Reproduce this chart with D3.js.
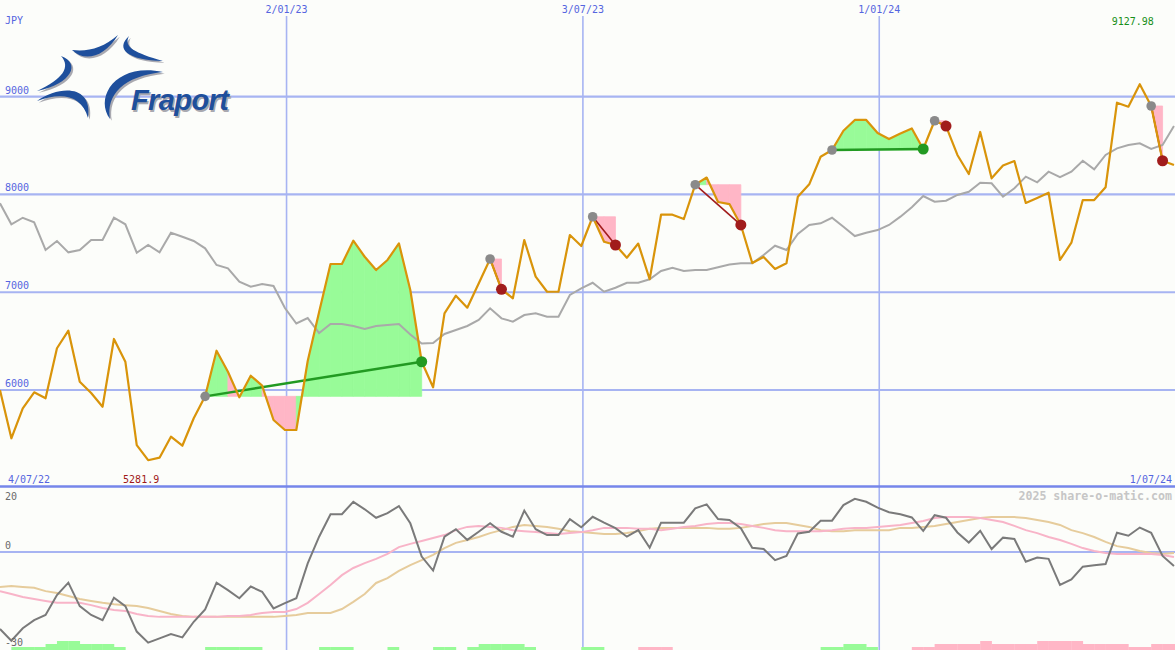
<!DOCTYPE html>
<html><head><meta charset="utf-8">
<script src="https://cdn.jsdelivr.net/npm/d3@7/dist/d3.min.js"></script>
<style>html,body{margin:0;padding:0;background:#fcfdfa;}svg{display:block;}</style>
</head><body>
<script>
// ---------- DATA ----------
const startDate = "2022-07-10";            // first weekly point
const rangeStart = "2022-07-04", rangeEnd = "2024-07-01";
const tickDates = ["2023-01-02", "2023-07-03", "2024-01-01"];
const tickLabels = ["2/01/23", "3/07/23", "1/01/24"];
const priceTicks = [6000, 7000, 8000, 9000];
const oscTicks = [20, 0, -30];
const currency = "JPY";

const close = [6000, 5506, 5813, 5976, 5915, 6427, 6607, 6085, 5969, 5829,
 6522, 6290, 5437, 5281.9, 5308, 5522, 5430, 5711, 5935, 6402,
 6187, 5925, 6146, 6045, 5693, 5591, 5591, 6297, 6798, 7289,
 7289, 7527, 7363, 7227, 7330, 7500, 7023, 6289, 6028, 6784,
 6965, 6842, 7089, 7340, 7030, 6938, 7534, 7159, 7005, 7005,
 7585, 7473, 7772, 7517, 7483, 7353, 7498, 7133, 7793, 7793,
 7749, 8100, 8173, 7923, 7902, 7688, 7299, 7360, 7238, 7296,
 7977, 8104, 8386, 8455, 8652, 8762, 8762, 8629, 8567, 8623,
 8675, 8465, 8754, 8700, 8404, 8209, 8639, 8165, 8296, 8342,
 7913, 7964, 8018, 7330, 7507, 7943, 7943, 8073, 8939, 8898,
 9127.98, 8905, 8345, 8301];

const movingAvg = [7910, 7695, 7762, 7715, 7432, 7524, 7408, 7432, 7534, 7534,
 7762, 7695, 7404, 7483, 7408, 7609, 7568, 7524, 7449, 7279,
 7245, 7108, 7057, 7084, 7064, 6839, 6680, 6736, 6583, 6675,
 6675, 6655, 6624, 6655, 6665, 6675, 6568, 6476, 6481, 6573,
 6614, 6655, 6716, 6836, 6733, 6699, 6767, 6785, 6750, 6750,
 6972, 7040, 7097, 7005, 7046, 7097, 7097, 7132, 7217, 7251,
 7217, 7227, 7227, 7255, 7284, 7296, 7296, 7381, 7476, 7432,
 7596, 7688, 7705, 7762, 7670, 7575, 7609, 7636, 7688, 7773,
 7869, 7984, 7926, 7936, 7995, 8028, 8120, 8114, 7977, 8063,
 8182, 8124, 8233, 8176, 8233, 8345, 8257, 8404, 8472, 8506,
 8523, 8465, 8506, 8700];

const oscillator = [-23.6, -27.2, -23.4, -20.9, -19.3, -13.2, -9.4, -16.6, -19.3, -20.9,
 -14.0, -16.6, -24.4, -27.8, -26.5, -25.2, -26.2, -21.4, -17.6, -9.4,
 -11.7, -14.2, -10.6, -12.2, -17.3, -15.7, -14.2, -3.5, 4.7, 11.6,
 11.6, 15.4, 13.1, 10.5, 11.9, 14.1, 8.8, -1.4, -5.7, 4.7,
 7.0, 3.7, 6.2, 8.8, 6.2, 4.7, 12.7, 7.0, 5.2, 5.2,
 10.1, 7.6, 10.8, 9.0, 7.3, 4.7, 6.7, 1.3, 9.0, 9.0,
 9.0, 13.4, 14.6, 10.1, 9.8, 7.3, 1.3, 0.9, -2.5, -1.2,
 5.7, 6.2, 9.6, 9.6, 14.4, 16.3, 15.4, 13.6, 12.2, 11.6,
 10.6, 6.5, 11.3, 10.5, 6.0, 2.9, 6.5, 0.9, 4.4, 4.0,
 -3.0, -1.7, -2.1, -10.1, -8.4, -4.5, -4.1, -3.7, 5.9, 5.0,
 7.5, 5.9, -1.2, -4.3];

const signalFast = [-12.0, -12.9, -13.8, -14.4, -15.0, -15.6, -15.6, -15.6, -16.3, -17.2,
 -17.8, -18.1, -19.0, -19.6, -19.9, -19.9, -19.9, -19.9, -19.9, -19.9,
 -19.6, -19.6, -19.3, -18.7, -18.4, -18.4, -17.5, -15.6, -12.9, -10.1,
 -7.1, -4.9, -3.4, -2.1, -0.6, 1.5, 2.5, 3.4, 4.3, 5.2,
 6.7, 7.7, 8.0, 7.7, 7.4, 6.7, 6.4, 6.1, 5.8, 5.5,
 5.8, 6.1, 6.7, 7.4, 7.4, 7.4, 7.1, 7.1, 6.7, 7.1,
 7.7, 8.0, 8.6, 8.9, 8.9, 8.6, 8.0, 7.4, 6.7, 6.4,
 6.4, 6.4, 6.4, 6.7, 7.1, 7.4, 7.4, 7.7, 8.0, 8.3,
 8.9, 9.5, 10.4, 10.7, 10.7, 10.7, 10.4, 9.8, 9.2, 8.0,
 6.7, 5.8, 4.6, 3.7, 2.5, 1.2, 0.3, -0.3, -0.6, -0.6,
 -0.6, -0.6, -0.9, -1.5];

const signalSlow = [-10.7, -10.4, -10.7, -11.0, -12.0, -12.6, -13.5, -14.4, -15.0, -15.6,
 -16.0, -16.3, -16.6, -17.2, -18.1, -19.0, -19.6, -19.9, -19.9, -19.9,
 -19.9, -19.9, -19.9, -19.9, -19.9, -19.6, -19.3, -18.7, -18.7, -18.7,
 -17.5, -15.3, -12.9, -9.5, -8.0, -5.8, -4.0, -2.5, -0.9, 1.2,
 2.8, 3.7, 4.6, 5.8, 6.7, 7.7, 8.3, 8.0, 7.7, 7.1,
 6.4, 6.1, 5.8, 5.5, 5.5, 5.8, 6.4, 7.1, 7.4, 7.4,
 7.4, 7.4, 7.4, 7.1, 7.1, 7.4, 8.0, 8.6, 8.9, 8.9,
 8.3, 7.7, 6.7, 6.4, 6.4, 6.7, 6.7, 6.7, 6.7, 7.4,
 7.4, 7.7, 8.0, 8.6, 9.2, 9.8, 10.4, 10.7, 10.7, 10.7,
 10.4, 9.8, 9.2, 8.3, 6.7, 5.8, 4.6, 3.1, 1.8, 1.2,
 0.3, -0.3, -0.6, -0.3];

// strength bars (+ green / - pink)
const strength = [0,1,1,1,2,3,3,2,2,2,
 1,0,0,0,0,0,0,0,1,1,
 1,1,1,0,0,0,0,0,1,1,
 1,0,0,0,1,0,0,0,1,1,
 0,1,2,2,2,2,1,0,0,0,
 0,1,1,0,0,0,-1,-1,-1,0,
 0,0,0,0,0,0,0,0,0,0,
 0,0,1,1,2,2,1,0,0,0,
 -1,-1,-2,-2,-2,-2,-3,-2,-2,-2,
 -2,-3,-3,-3,-3,-2,-2,-2,-2,-1,
 -1,-2,-2,-2];

// trades: entry week index, exit week index
const tradeEntry = [18, 43, 52, 61, 73, 82, 101];
const tradeExit  = [37, 44, 54, 65, 81, 83, 102];

// ---------- SETUP ----------
const W = 1175, H = 650;
const C = {
  bg: "#fcfdfa", grid: "#a7b4f2", border: "#7686ea", label: "#5565e0",
  price: "#d9940a", ma: "#a9a9a9", osc: "#7a7a7a", fast: "#f8b4c8", slow: "#e6cc9c",
  up: "#98fb98", down: "#ffb6c6", win: "#229a22", loss: "#a11c1c", entry: "#8a8a8a",
  logo: "#1e4f9c"
};
const parse = d3.timeParse("%Y-%m-%d");
const dates = d3.timeSunday.range(parse(startDate), d3.timeDay.offset(parse(startDate), 7 * close.length));

const svg = d3.select("body").append("svg").attr("width", W).attr("height", H)
  .style("font-family", "'DejaVu Sans Mono', monospace");
svg.append("rect").attr("width", W).attr("height", H).attr("fill", C.bg);

const x = d3.scaleTime().domain([parse(rangeStart), parse(rangeEnd)]).range([-9.8, 1175.6]);
const y = d3.scaleLinear().domain([6000, 9000]).range([390, 96.7]);
const yo = d3.scaleLinear().domain([-30, 20]).range([649.8, 486.8]);
const barH = d3.scaleLinear().domain([0, 3]).range([0, 9]);
const X = i => x(dates[i]);

// ---------- GRID ----------
const hg = svg.append("g");
hg.selectAll("line.h").data(priceTicks).join("line")
  .attr("x1", 0).attr("x2", W).attr("y1", d => y(d)).attr("y2", d => y(d))
  .attr("stroke", C.grid).attr("stroke-width", 2.2);
hg.selectAll("text.h").data(priceTicks).join("text")
  .attr("x", 5).attr("y", d => y(d) - 3).attr("fill", C.label).attr("font-size", 10).text(d => d);

const tickX = tickDates.map(d => x(parse(d)));
hg.selectAll("line.v").data(tickX).join("line")
  .attr("x1", d => d).attr("x2", d => d).attr("y1", 16).attr("y2", H)
  .attr("stroke", C.grid).attr("stroke-width", 1.6);
hg.selectAll("text.v").data(tickLabels).join("text")
  .attr("x", (d, i) => tickX[i]).attr("y", 13).attr("text-anchor", "middle")
  .attr("fill", C.label).attr("font-size", 10).text(d => d);

// oscillator zero line
hg.append("line").attr("x1", 0).attr("x2", W).attr("y1", yo(0)).attr("y2", yo(0))
  .attr("stroke", C.grid).attr("stroke-width", 2.2);
// panel separator
hg.append("line").attr("x1", 0).attr("x2", W).attr("y1", 486.5).attr("y2", 486.5)
  .attr("stroke", C.border).attr("stroke-width", 2.6);

svg.append("text").attr("x", 5).attr("y", 24).attr("fill", C.label).attr("font-size", 10).text(currency);

// ---------- LOGO ----------
const logo = svg.append("g");
const swooshes = [
  "M72,50 C84,62 104,58 118,35 C103,48 88,52 72,50 Z",
  "M129,36 C115,49 127,60 163,61 C135,53 123,47 129,36 Z",
  "M61,56 C81,63 72,84 37,91 C63,79 71,67 61,56 Z",
  "M37,101 C60,85 93,85 88,118 C82,95 61,92 37,101 Z",
  "M163,72 C116,62 94,97 110,119 C106,95 123,76 163,72 Z"
];
logo.selectAll("path.s").data(swooshes).join("path")
  .attr("d", d => d).attr("fill", "#a9a9b0").attr("transform", "translate(1.8,1.8)");
logo.selectAll("path.f").data(swooshes).join("path")
  .attr("d", d => d).attr("fill", C.logo);
logo.append("text").attr("x", 132.5).attr("y", 111.5).attr("fill", "#a9a9b0")
  .attr("font-family", "'Liberation Sans', Arial, sans-serif").attr("font-weight", "bold")
  .attr("font-style", "italic").attr("font-size", 29).attr("letter-spacing", -0.6).text("Fraport");
logo.append("text").attr("x", 131).attr("y", 110).attr("fill", C.logo)
  .attr("font-family", "'Liberation Sans', Arial, sans-serif").attr("font-weight", "bold")
  .attr("font-style", "italic").attr("font-size", 29).attr("letter-spacing", -0.6).text("Fraport");

// ---------- TRADE FILLS ----------
const fills = svg.append("g");
tradeEntry.forEach((e, t) => {
  const ex = tradeExit[t], level = close[e];
  for (let i = e; i < ex; i++) {
    const pts = [[X(i), y(level)], [X(i), y(close[i])], [X(i + 1), y(close[i + 1])], [X(i + 1), y(level)]];
    const col = close[i + 1] >= level ? C.up : C.down;
    fills.append("path").attr("d", "M" + pts.join("L") + "Z")
      .attr("fill", col).attr("stroke", col).attr("stroke-width", 0.8).attr("stroke-linejoin", "miter");
  }
});

// ---------- LINES ----------
const idx = d3.range(close.length);
const lineOf = (arr, ys) => d3.line().x(i => X(i)).y(i => ys(arr[i]))(idx);
svg.append("path").attr("d", lineOf(movingAvg, y)).attr("fill", "none").attr("stroke", C.ma).attr("stroke-width", 2);

// trade lines (beneath price)
const tg = svg.append("g");
tradeEntry.forEach((e, t) => {
  const ex = tradeExit[t], win = close[ex] >= close[e];
  tg.append("line").attr("x1", X(e)).attr("y1", y(close[e])).attr("x2", X(ex)).attr("y2", y(close[ex]))
    .attr("stroke", win ? C.win : C.loss).attr("stroke-width", win ? 2.4 : 1.6);
});

svg.append("path").attr("d", lineOf(close, y)).attr("fill", "none").attr("stroke", C.price).attr("stroke-width", 2.2).attr("stroke-linejoin", "round");

const dg = svg.append("g");
tradeEntry.forEach((e, t) => {
  const ex = tradeExit[t], win = close[ex] >= close[e];
  dg.append("circle").attr("cx", X(e)).attr("cy", y(close[e])).attr("r", 4.8).attr("fill", C.entry);
  dg.append("circle").attr("cx", X(ex)).attr("cy", y(close[ex])).attr("r", 5.5).attr("fill", win ? C.win : C.loss);
});

// min / max labels
const iMin = d3.minIndex(close), iMax = d3.maxIndex(close);
svg.append("text").attr("x", X(iMin) - 7).attr("y", 482.5).attr("text-anchor", "middle")
  .attr("fill", "#a01818").attr("font-size", 10).text(d3.format(".1f")(close[iMin]));
svg.append("text").attr("x", X(iMax) - 7).attr("y", 25).attr("text-anchor", "middle")
  .attr("fill", "#189018").attr("font-size", 10).text(d3.format(".2f")(close[iMax]));
svg.append("text").attr("x", 8).attr("y", 482.5).attr("fill", C.label).attr("font-size", 10)
  .text(d3.timeFormat("%-d/%m/%y")(parse(rangeStart)));
svg.append("text").attr("x", 1172).attr("y", 482.5).attr("text-anchor", "end").attr("fill", C.label).attr("font-size", 10)
  .text(d3.timeFormat("%-d/%m/%y")(parse(rangeEnd)));

// ---------- OSCILLATOR PANEL ----------
const step = X(1) - X(0);
svg.append("g").selectAll("rect").data(idx.filter(i => strength[i] !== 0)).join("rect")
  .attr("x", i => X(i)).attr("width", step + 0.3)
  .attr("y", i => H - barH(Math.abs(strength[i]))).attr("height", i => barH(Math.abs(strength[i])))
  .attr("fill", i => strength[i] > 0 ? C.up : C.down);

svg.append("path").attr("d", lineOf(signalSlow, yo)).attr("fill", "none").attr("stroke", C.slow).attr("stroke-width", 2);
svg.append("path").attr("d", lineOf(signalFast, yo)).attr("fill", "none").attr("stroke", C.fast).attr("stroke-width", 2);
svg.append("path").attr("d", lineOf(oscillator, yo)).attr("fill", "none").attr("stroke", C.osc).attr("stroke-width", 2);

const oscLabelY = [499.5, 549, 646];
svg.selectAll("text.o").data(oscTicks).join("text")
  .attr("x", 5).attr("y", (d, i) => oscLabelY[i]).attr("fill", "#6a6a6a").attr("font-size", 10).text(d => d);

svg.append("text").attr("x", 1172).attr("y", 500).attr("text-anchor", "end")
  .attr("fill", "#c6c6c6").attr("font-size", 11.6).attr("font-weight", "bold").text("2025 share-o-matic.com");
</script>
</body></html>
